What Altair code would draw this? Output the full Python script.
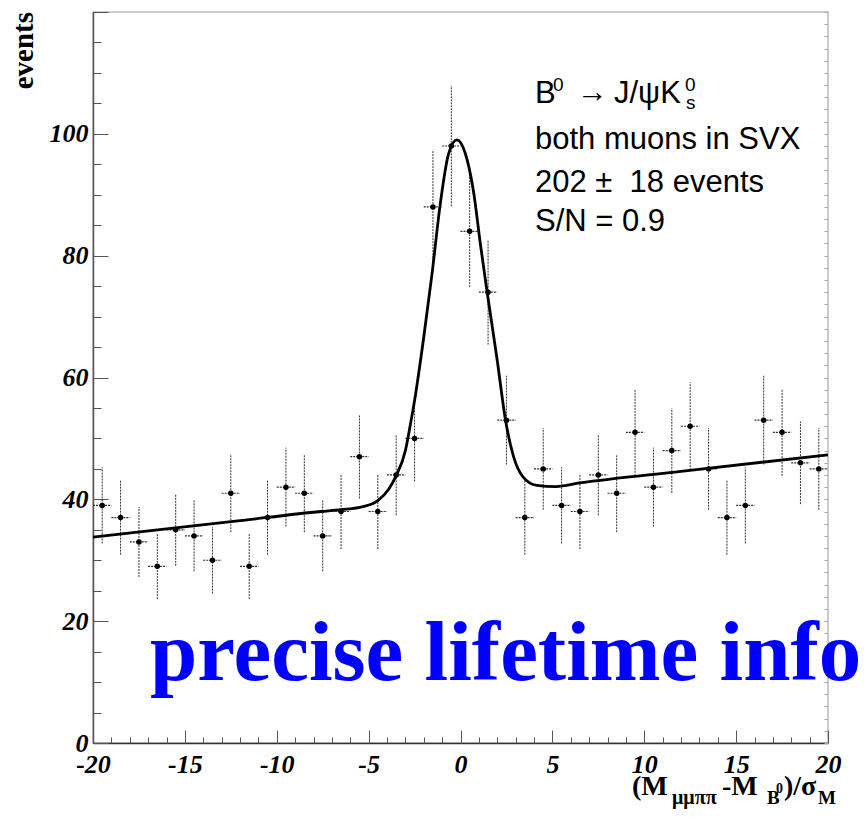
import altair as alt
import pandas as pd

# Histogram of (M - M_B0)/sigma_M, one-unit bins
bin_centers = [-19.5, -18.5, -17.5, -16.5, -15.5, -14.5, -13.5, -12.5, -11.5, -10.5,
               -9.5, -8.5, -7.5, -6.5, -5.5, -4.5, -3.5, -2.5, -1.5, -0.5,
               0.5, 1.5, 2.5, 3.5, 4.5, 5.5, 6.5, 7.5, 8.5, 9.5,
               10.5, 11.5, 12.5, 13.5, 14.5, 15.5, 16.5, 17.5, 18.5, 19.5]
counts = [39, 37, 33, 29, 35, 34, 30, 41, 29, 37,
          42, 41, 34, 38, 47, 38, 44, 50, 88, 98,
          84, 74, 53, 37, 45, 39, 38, 44, 41, 51,
          42, 48, 52, 45, 37, 39, 53, 51, 46, 45]

# Fitted curve (signal peak on a linear background), sampled points
fit_x = [-20, -12, -7.6, -6.5, -5.3, -4.5, -3.9, -3.5, -3.0, -2.75, -2.5, -2.0,
         -1.55, -1.1, -0.65, -0.2, 0.25, 0.7, 1.1, 1.45, 2.0, 2.45, 2.9, 3.4,
         4.15, 5.2, 6.5, 12, 20]
fit_y = [33.8, 36.5, 38.0, 38.3, 38.8, 39.8, 41.7, 43.9, 48.0, 51.9, 56.2, 66.6,
         77.0, 88.5, 96.7, 99.0, 96.9, 90.7, 81.5, 74.0, 62.8, 53.0, 46.9, 43.7,
         42.3, 42.1, 42.7, 44.6, 47.3]

y_labels = [0, 20, 40, 60, 80, 100]
x_labels = [-20, -15, -10, -5, 0, 5, 10, 15, 20]
y_ticks_major = [0, 20, 40, 60, 80, 100, 120]
y_ticks_minor = list(range(0, 121, 5))
y_ticks_right = list(range(0, 121, 2))
x_ticks_major = list(range(-20, 21, 5))
x_ticks_minor = list(range(-20, 21, 1))

hist = pd.DataFrame({"x": bin_centers, "n": counts})
fit = pd.DataFrame({"x": fit_x, "y": fit_y})

W, H = 735, 731
XS = alt.Scale(domain=[-20, 20], nice=False, zero=False)
YS = alt.Scale(domain=[0, 120], nice=False, zero=False)
SERIF = "Liberation Serif"
SANS = "Liberation Sans"
AX = "#555555"
NBSP = "\u00a0"


def tick_axis(orient, values, size, offset, color=AX):
    return alt.Axis(orient=orient, values=values, tickSize=size, offset=offset,
                    labels=False, domain=False, title=None, grid=False,
                    tickColor=color, tickWidth=1)


def ghost(xaxis, yaxis):
    # invisible layer that only carries an axis
    return alt.Chart(hist).mark_circle(opacity=0).encode(
        x=alt.X("x:Q", scale=XS, axis=xaxis),
        y=alt.Y("n:Q", scale=YS, axis=yaxis),
    )


base = alt.Chart(hist).transform_calculate(
    lo="datum.n - sqrt(datum.n)",
    hi="datum.n + sqrt(datum.n)",
    xl="datum.x - 0.5",
    xh="datum.x + 0.5",
)

label_axis_y = alt.Axis(orient="left", values=y_labels, ticks=False, title=None,
                        grid=False, labelFont=SERIF, labelFontSize=26,
                        labelFontWeight="bold", labelFontStyle="italic",
                        labelColor="black", labelPadding=5, labelOverlap=False,
                        labelFlush=False, labelExpr="'' + datum.value",
                        domainColor=AX, domainWidth=1.5)
label_axis_x = alt.Axis(orient="bottom", values=x_labels, ticks=False, title=None,
                        grid=False, labelFont=SERIF, labelFontSize=26,
                        labelFontWeight="bold", labelFontStyle="italic",
                        labelColor="black", labelPadding=8, labelOverlap=False,
                        labelFlush=False, labelExpr="'' + datum.value",
                        domainColor="#333333", domainWidth=1.5)

vbars = base.mark_rule(color="#333333", strokeWidth=1, strokeDash=[2, 1]).encode(
    x=alt.X("x:Q", scale=XS, axis=label_axis_x),
    y=alt.Y("lo:Q", scale=YS, axis=label_axis_y),
    y2="hi:Q",
)
hbars = base.mark_rule(color="#333333", strokeWidth=1.2, strokeDash=[2, 1]).encode(
    x=alt.X("xl:Q", scale=XS, axis=None),
    x2="xh:Q",
    y=alt.Y("n:Q", scale=YS, axis=None),
)
dots = alt.Chart(hist).mark_circle(color="black", size=30, opacity=1).encode(
    x=alt.X("x:Q", scale=XS, axis=None),
    y=alt.Y("n:Q", scale=YS, axis=None),
)
curve = alt.Chart(fit).mark_line(color="black", strokeWidth=2.8,
                                 interpolate="monotone").encode(
    x=alt.X("x:Q", scale=XS, axis=None),
    y=alt.Y("y:Q", scale=YS, axis=None),
)

one = alt.InlineData(values=[{"k": 0}])


def label(text, x, y, size, font=SANS, weight="normal", style="normal",
          color="black", angle=0, align="left", baseline="alphabetic"):
    return alt.Chart(one).mark_text(
        text=text, font=font, fontSize=size, fontWeight=weight, fontStyle=style,
        color=color, angle=angle, align=align, baseline=baseline,
    ).encode(x=alt.value(x), y=alt.value(y))


texts = [
    label("events", -60, 0, 29, font=SERIF, weight="bold", angle=270, align="right"),
    # legend block
    label("B", 442, 91, 31),
    label("0", 460, 79, 19),
    label("\u2192", 484, 90, 31),
    label("J/\u03c8K", 521, 91, 31),
    label("0", 592, 79, 19),
    label("s", 593, 97, 19),
    label("both muons in SVX", 442, 137, 31),
    label("202 \u00b1" + NBSP + " 18 events", 442, 180, 31),
    label("S/N = 0.9", 442, 219, 31),
    # big annotation
    label("precise lifetime info", 57, 668, 85, font=SERIF, weight="bold", color="#0000ff"),
    # x-axis title
    label("(M", 539, 783, 28, font=SERIF, weight="bold"),
    label("\u03bc\u03bc\u03c0\u03c0", 579, 792, 20, font=SERIF, weight="bold"),
    label("-M", 629, 783, 28, font=SERIF, weight="bold"),
    label("B", 674, 792, 19, font=SERIF, weight="bold"),
    label("0", 683, 781, 14, font=SERIF, weight="bold"),
    label(")/\u03c3", 691, 783, 28, font=SERIF, weight="bold"),
    label("M", 725, 792, 19, font=SERIF, weight="bold"),
]

axes_layers = [
    ghost(None, tick_axis("right", y_ticks_major, 15, -W)),
    ghost(None, tick_axis("right", y_ticks_minor, 8, -W)),
    ghost(None, tick_axis("left", y_ticks_right, 4, -W, color="#aaaaaa")),
    ghost(tick_axis("top", x_ticks_major, 13, -H), None),
    ghost(tick_axis("top", x_ticks_minor, 6, -H), None),
]

chart = alt.layer(
    vbars, hbars, curve, dots, *axes_layers, *texts
).resolve_axis(x="independent", y="independent").properties(
    width=W, height=H,
    autosize=alt.AutoSizeParams(type="none"),
    padding={"left": 93, "top": 12, "right": 37, "bottom": 76},
    background="white",
).configure_view(stroke="#bbbbbb", strokeWidth=1.5)

chart.save("out.html", embed_options={"renderer": "svg", "actions": False})
